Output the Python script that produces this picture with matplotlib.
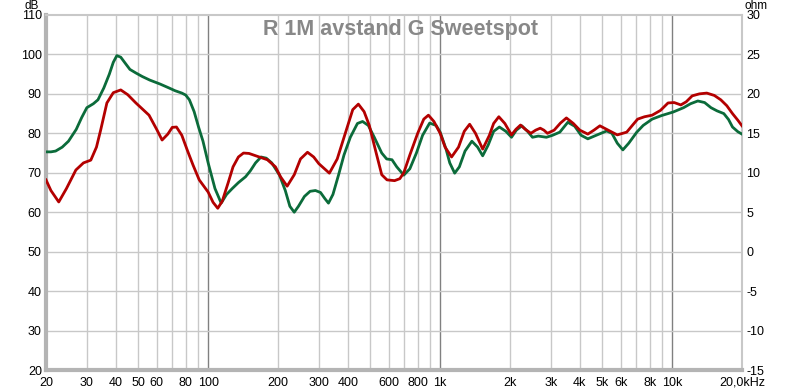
import numpy as np
import matplotlib.pyplot as plt
from matplotlib.ticker import FixedLocator, NullFormatter

# R 1M avstand (rød)
freq_r = [20, 21, 22.7, 24.5, 26.9, 29, 31.2, 33, 34.4, 36.6, 39, 42, 45, 48.8, 55.6, 60, 63.3,
          67, 70, 73, 77, 81.2, 86, 91.5, 100, 105, 110, 115, 122, 128, 135, 142, 150, 166, 180,
          195, 205, 219, 235, 250, 268, 285, 300, 333, 360, 390, 420, 444, 470, 495, 530,
          560, 590, 636, 670, 697, 740, 800, 850, 890, 940, 1000, 1050, 1120, 1200, 1270,
          1340, 1420, 1525, 1630, 1700, 1790, 1900, 2030, 2120, 2220, 2330, 2460, 2580,
          2700, 2800, 2900, 3100, 3300, 3500, 3750, 4000, 4330, 4600, 4880, 5300, 5800,
          6370, 6800, 7100, 7600, 8200, 8900, 9600, 10200, 10900, 11500, 12200, 13100,
          14100, 15200, 16200, 17200, 18200, 19200, 20000]
db_r = [68.2, 65.5, 62.6, 66.0, 70.7, 72.5, 73.2, 76.5, 80.8, 87.7, 90.3, 91.0, 89.8, 87.7, 84.6, 81.0, 78.3,
        79.8, 81.5, 81.6, 79.5, 75.8, 72.0, 68.2, 65.1, 62.5, 61.0, 62.8, 67.5, 71.5, 74.0, 75.0, 74.9, 74.0, 73.3,
        71.5, 69.0, 66.6, 69.5, 73.5, 75.2, 74.0, 72.3, 69.9, 73.5, 80.0, 86.0, 87.4, 85.5, 82.0, 75.0,
        69.5, 68.2, 68.0, 68.5, 70.0, 74.5, 80.0, 83.6, 84.6, 83.0, 80.0, 76.5, 74.0, 76.5, 80.5,
        82.3, 80.0, 76.0, 79.5, 82.5, 84.2, 82.5, 79.6, 81.0, 82.1, 81.0, 80.0, 80.8,
        81.3, 80.8, 80.0, 80.8, 82.6, 83.9, 82.5, 80.8, 79.8, 80.8, 81.9, 80.8, 79.6,
        80.3, 82.3, 83.6, 84.2, 84.6, 85.8, 87.7, 87.8, 87.2, 88.0, 89.5, 90.0,
        90.2, 89.6, 88.5, 87.0, 85.0, 83.3, 81.9]

# G Sweetspot (grønn)
freq_g = [20, 21, 22, 23.5, 25, 27, 28.5, 30, 32, 33.5, 35.5, 37.5, 39, 40.4, 42, 44, 46, 48.8,
          52, 56, 62, 67.8, 72, 77, 80, 83, 87, 91, 95, 100, 107, 113.8, 120, 127, 135, 145,
          152, 160, 169, 178, 188, 203, 215, 225, 235, 245, 260, 275, 290, 305, 318, 330,
          345, 365, 385, 410, 440, 463, 490, 520, 560, 588, 620, 650, 697, 740, 790, 840,
          901, 960, 1000, 1060, 1100, 1155, 1210, 1280, 1370, 1450, 1525, 1610, 1700, 1800,
          1920, 2030, 2130, 2250, 2380, 2500, 2650, 2870, 3050, 3280, 3550, 3800, 4050,
          4330, 4750, 5220, 5500, 5800, 6130, 6500, 7040, 7500, 8200, 9000, 10100, 11200,
          12000, 12900, 13800, 14700, 15600, 16700, 17500, 18200, 19200, 20000]
db_g = [75.3, 75.3, 75.5, 76.5, 78.0, 81.0, 84.0, 86.5, 87.5, 88.5, 91.5, 95.0, 98.0, 99.7, 99.3, 97.7, 96.2, 95.3,
        94.4, 93.5, 92.5, 91.5, 90.8, 90.2, 89.7, 88.5, 85.5, 81.5, 78.0, 72.5, 66.0, 62.3, 64.5, 66.0, 67.5, 69.0,
        70.5, 72.5, 74.0, 73.7, 72.5, 69.4, 65.5, 61.5, 60.0, 61.5, 64.0, 65.3, 65.5, 65.0, 63.5, 62.3,
        64.5, 69.5, 74.5, 79.0, 82.5, 83.0, 82.0, 79.0, 75.0, 73.5, 73.3, 71.5, 69.4, 71.0, 75.0, 79.5,
        82.6, 82.0, 80.3, 76.0, 72.5, 69.9, 71.5, 75.5, 78.0, 76.5, 74.3, 77.0, 80.5, 81.6,
        80.5, 79.0, 80.8, 81.9, 80.5, 79.0, 79.3, 79.0, 79.5, 80.3, 82.8, 81.8, 79.5,
        78.6, 79.6, 80.6, 80.0, 77.5, 75.8, 77.5, 80.3, 82.0, 83.6, 84.5, 85.4, 86.5,
        87.5, 88.2, 87.8, 86.5, 85.7, 85.0, 83.5, 81.6, 80.4, 79.8]

major_f = [20, 30, 40, 50, 60, 80, 100, 200, 300, 400, 600, 800, 1000,
           2000, 3000, 4000, 5000, 6000, 8000, 10000, 20000]
major_lbl = ['20', '30', '40', '50', '60', '80', '100', '200', '300', '400', '600', '800', '1k',
             '2k', '3k', '4k', '5k', '6k', '8k', '10k', '20,0kHz']

plt.rcParams['font.family'] = ['Liberation Sans', 'DejaVu Sans']
plt.rcParams['axes.unicode_minus'] = False

fig = plt.figure(figsize=(8, 3.91), dpi=100)
ax = fig.add_axes([0.0575, 0.0537, 0.87, 0.908])

# rutenett
grid_f = []
for dec in [10, 100, 1000, 10000]:
    for m in range(1, 10):
        f = dec * m
        if 20 <= f <= 20000:
            grid_f.append(f)
for f in grid_f:
    if f in (100, 1000, 10000):
        ax.axvline(f, color='#808080', lw=1.0, zorder=1)
    else:
        ax.axvline(f, color='#c8c8c8', lw=1.0, zorder=1)
for y in range(30, 110, 10):
    ax.axhline(y, color='#c8c8c8', lw=1.0, zorder=1)

ax.plot(freq_g, db_g, color='#0b6b3a', lw=2.0, zorder=3, solid_joinstyle='round')
ax.plot(freq_r, db_r, color='#b30000', lw=2.0, zorder=4, solid_joinstyle='round')

ax.set_xscale('log')
ax.set_xlim(20, 20000)
ax.set_ylim(20, 110)
ax.xaxis.set_major_locator(FixedLocator(major_f))
ax.set_xticklabels(major_lbl)
ax.xaxis.set_minor_formatter(NullFormatter())
ax.xaxis.set_minor_locator(FixedLocator([]))
ax.set_yticks(range(20, 111, 10))
ax.tick_params(axis='y', length=0, labelsize=9, colors='black', pad=3)
ax.tick_params(axis='x', length=0, labelsize=9, colors='black', pad=5)

for s in ['top', 'right']:
    ax.spines[s].set_color('#c8c8c8')
    ax.spines[s].set_linewidth(1.5)
for s in ['left', 'bottom']:
    ax.spines[s].set_color('#b4b4b4')
    ax.spines[s].set_linewidth(3)

ax2 = ax.twinx()
ax2.set_ylim(-15, 30)
ax2.set_yticks(range(-15, 31, 5))
ax2.tick_params(axis='y', length=0, labelsize=9, pad=3)
for s in ax2.spines.values():
    s.set_visible(False)

fig.text(0.039, 1.0, 'dB', fontsize=8.5, ha='center', va='top')
fig.text(0.945, 1.0, 'ohm', fontsize=8.5, ha='center', va='top')

ax.text(0.509, 0.99, 'R 1M avstand G Sweetspot', transform=ax.transAxes, ha='center', va='top',
        fontsize=15.5, fontweight='bold', color='#888888')

fig.savefig('out.png', dpi=100)
